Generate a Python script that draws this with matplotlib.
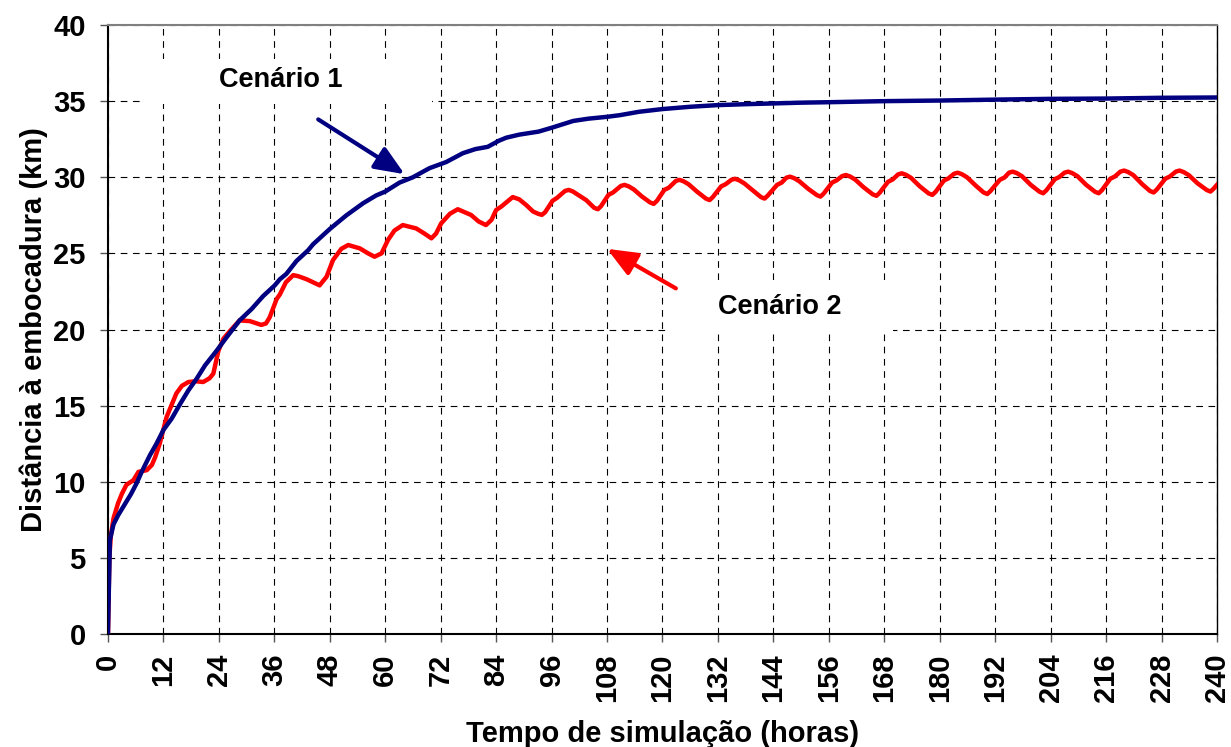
import matplotlib
matplotlib.use("Agg")
import matplotlib.pyplot as plt
from matplotlib.patches import Rectangle

plt.rcParams['font.family'] = ['Liberation Sans', 'DejaVu Sans']
plt.rcParams['font.weight'] = 'bold'

# Cenário 1 (hours, km)
t1 = [0, 0.2, 0.43, 1.2, 2.2, 3.0, 4.0, 5.0, 6.2, 7.3, 8.2, 9.1, 10.5, 12.0, 13.8,
      15.6, 17.4, 19.2, 21.0, 23.5, 25.7, 28.5, 31.1, 33.6, 36.1, 37.2, 38.6, 40.8,
      43.3, 44.4, 48.0, 51.6, 55.2, 58.0, 60.0, 63.1, 66.0, 69.6, 73.2, 76.8, 79.5,
      82.2, 84.6, 86.2, 89.0, 93.2, 96.0, 100.7, 104.0, 108.0, 110.8, 114.9, 120.0,
      126.0, 132.0, 138.0, 144.0, 150.0, 156.0, 168.0, 180.0, 192.0, 204.0, 216.0,
      228.0, 240.0]
d1 = [0, 3.0, 6.18, 7.2, 7.8, 8.2, 8.7, 9.2, 9.9, 10.65, 11.2, 11.75, 12.5, 13.4, 14.15,
      15.1, 16.0, 16.77, 17.64, 18.6, 19.5, 20.6, 21.35, 22.2, 22.9, 23.3, 23.65, 24.5,
      25.2, 25.6, 26.6, 27.5, 28.29, 28.8, 29.06, 29.65, 30.0, 30.6, 31.0, 31.58, 31.85,
      32.0, 32.4, 32.6, 32.8, 33.0, 33.25, 33.7, 33.85, 33.97, 34.08, 34.3, 34.48,
      34.63, 34.74, 34.8, 34.85, 34.9, 34.93, 35.0, 35.04, 35.1, 35.15, 35.17,
      35.22, 35.24]

# Cenário 2 (hours, km)
t2 = [0, 0.3, 0.6, 1.2, 2.2, 3.0, 4.0, 5.5, 6.6, 8.4, 9.5, 10.2, 11.2, 12.7, 14.8, 16.0,
      17.4, 19.0, 20.6, 22.0, 22.8, 23.9, 25.0, 26.4, 28.5, 30.7, 33.2, 34.2, 35.0, 36.5,
      37.2, 38.5, 40.1, 41.2, 43.0, 45.8, 47.3, 48.7, 50.5, 52.0, 54.5, 56.3, 57.7, 59.2,
      60.6, 62.0, 63.8, 66.7, 68.5, 70.0, 71.0, 72.1, 74.0, 75.7, 78.6, 80.2, 81.8, 83.0,
      84.0, 85.1, 87.6, 89.0, 90.5, 92.0,
      93.1, 93.9, 94.6, 96.2, 97.2, 98.9, 99.7, 100.6, 101.7, 103.5,
      105.2, 106.0, 106.7, 108.3, 109.3, 111.0, 111.8, 112.7, 113.8, 115.5,
      117.3, 118.1, 118.8, 120.4, 121.4, 122.9, 123.7, 124.6, 125.7, 127.5,
      129.4, 130.2, 130.9, 132.7, 133.7, 134.9, 135.7, 136.6, 137.7, 139.5,
      141.3, 142.1, 142.8, 144.8, 145.8, 146.8, 147.6, 148.5, 149.6, 151.5,
      153.4, 154.2, 154.9, 156.7, 157.7, 158.9, 159.7, 160.6, 161.7, 163.5,
      165.5, 166.3, 167.0, 168.8, 169.8, 171.0, 171.8, 172.7, 173.8, 175.7,
      177.6, 178.4, 179.1, 180.9, 181.9, 183.1, 183.9, 184.8, 185.9, 187.8,
      189.5, 190.3, 191.0, 193.0, 194.0, 195.0, 195.8, 196.7, 197.8, 199.7,
      201.6, 202.4, 203.1, 204.9, 205.9, 207.0, 207.8, 208.7, 209.8, 211.7,
      213.6, 214.4, 215.1, 216.9, 217.9, 219.1, 219.9, 220.8, 221.9, 223.8,
      225.5, 226.3, 227.0, 228.8, 229.8, 231.1, 231.9, 232.8, 233.9, 235.8,
      237.8, 238.6, 239.3, 240.0]
d2 = [0, 5.0, 6.4, 7.6, 8.6, 9.2, 9.8, 10.1, 10.65, 10.76, 11.1, 11.6, 12.5, 14.26, 15.8, 16.3,
      16.55, 16.6, 16.55, 16.8, 17.1, 18.6, 19.4, 19.9, 20.6, 20.55, 20.3, 20.4, 20.8, 22.0,
      22.3, 23.1, 23.57, 23.5, 23.3, 22.9, 23.46, 24.56, 25.3, 25.55, 25.33, 25.0, 24.78, 25.0,
      25.88, 26.5, 26.86, 26.64, 26.3, 25.99, 26.3, 26.97, 27.6, 27.9, 27.52, 27.1, 26.86, 27.2,
      27.85, 28.07, 28.7, 28.55, 28.18, 27.75,
      27.6, 27.53, 27.7, 28.45, 28.65, 29.1, 29.17, 29.07, 28.85, 28.5,
      28.0, 27.9, 28.1, 28.84, 29.0, 29.43, 29.5, 29.4, 29.2, 28.75,
      28.35, 28.25, 28.45, 29.17, 29.32, 29.76, 29.83, 29.73, 29.53, 29.05,
      28.6, 28.5, 28.7, 29.4, 29.55, 29.83, 29.9, 29.8, 29.6, 29.15,
      28.7, 28.6, 28.8, 29.5, 29.65, 29.97, 30.04, 29.94, 29.74, 29.25,
      28.83, 28.73, 28.93, 29.65, 29.8, 30.08, 30.15, 30.05, 29.85, 29.35,
      28.88, 28.78, 28.98, 29.7, 29.85, 30.19, 30.26, 30.16, 29.96, 29.4,
      28.94, 28.84, 29.04, 29.78, 29.93, 30.23, 30.3, 30.2, 30.0, 29.45,
      29.0, 28.9, 29.1, 29.83, 29.98, 30.3, 30.37, 30.27, 30.07, 29.5,
      29.05, 28.95, 29.15, 29.87, 30.02, 30.3, 30.37, 30.27, 30.07, 29.5,
      29.05, 28.95, 29.15, 29.9, 30.05, 30.37, 30.44, 30.34, 30.14, 29.55,
      29.1, 29.0, 29.2, 29.9, 30.05, 30.37, 30.44, 30.34, 30.14, 29.6,
      29.16, 29.06, 29.26, 29.5]

xticks = list(range(0, 241, 12))
yticks = list(range(0, 41, 5))

fig = plt.figure(figsize=(12.31, 7.47), dpi=100)
ax = fig.add_axes([0.0877, 0.1513, 0.9009, 0.8152])

ax.plot(t2, d2, color='#FF0000', lw=3.2, solid_joinstyle='round', zorder=4)
ax.plot(t1, d1, color='#000080', lw=3.2, solid_joinstyle='round', zorder=5)

ax.set_xlim(0, 240)
ax.set_ylim(0, 40)
ax.set_xticks(xticks)
ax.set_yticks(yticks)
ax.set_xticklabels([str(v) for v in xticks], rotation=90, fontsize=21, fontweight='bold')
ax.set_yticklabels([str(v) for v in yticks], fontsize=21, fontweight='bold')
ax.tick_params(direction='out', length=6, width=1, color='#555555')
ax.tick_params(axis='x', pad=8)
ax.tick_params(axis='y', pad=10)
ax.grid(True, color='black', lw=0.8, linestyle=(0, (6, 5)))
ax.set_axisbelow(True)

for s in ['left', 'bottom']:
    ax.spines[s].set_color('black')
    ax.spines[s].set_linewidth(1.5)
ax.spines['top'].set_color('#808080')
ax.spines['top'].set_linewidth(1.5)
ax.spines['right'].set_color('black')
ax.spines['right'].set_linewidth(1)

ax.set_xlabel('Tempo de simulação (horas)', fontsize=21, fontweight='bold', labelpad=13)
ax.set_ylabel('Distância à embocadura (km)', fontsize=21, fontweight='bold', labelpad=4)

# white label boxes hiding the grid
ax.add_patch(Rectangle((7.6, 34.8), 62.5, 3.0, facecolor='white', edgecolor='none', zorder=2))
ax.add_patch(Rectangle((121.0, 19.76), 48.9, 3.48, facecolor='white', edgecolor='none', zorder=2))

ax.text(37.3, 36.4, 'Cenário 1', fontsize=19.5, fontweight='bold', ha='center', va='center', zorder=3)
ax.text(145.4, 21.5, 'Cenário 2', fontsize=19.5, fontweight='bold', ha='center', va='center', zorder=3)

astyle = '-|>,head_length=0.6,head_width=0.25'
ax.annotate('', xy=(64.2, 30.2), xytext=(45.5, 33.8),
            arrowprops=dict(arrowstyle=astyle, color='#000080', lw=3, mutation_scale=30,
                            shrinkA=0, shrinkB=0), zorder=6)
ax.annotate('', xy=(108.0, 25.3), xytext=(122.9, 22.7),
            arrowprops=dict(arrowstyle=astyle, color='#FF0000', lw=3, mutation_scale=30,
                            shrinkA=0, shrinkB=0), zorder=6)

fig.savefig('out.png', dpi=100)
